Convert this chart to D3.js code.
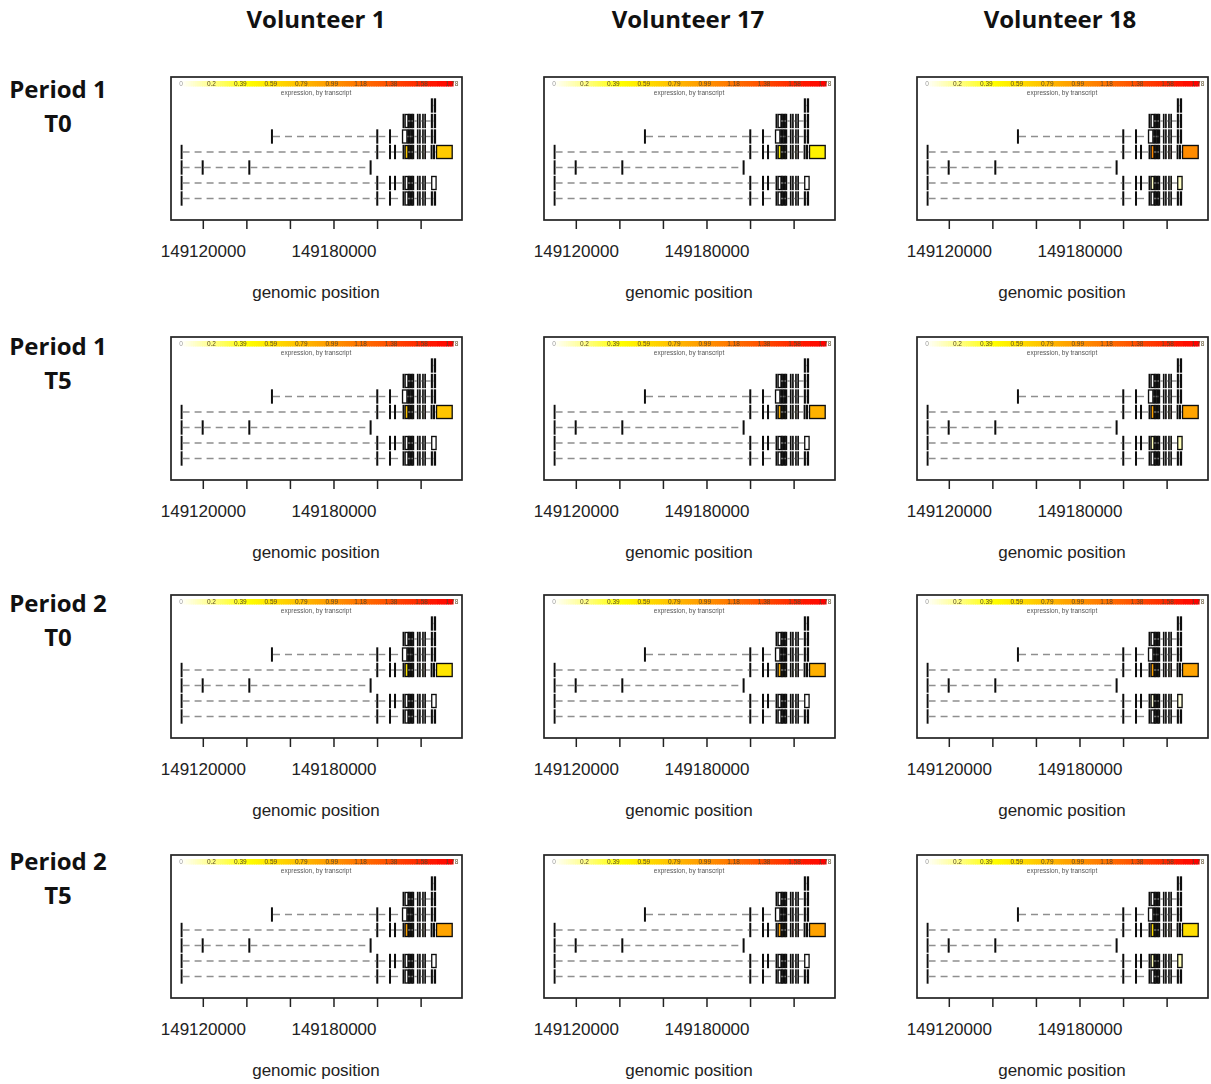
<!DOCTYPE html>
<html>
<head>
<meta charset="utf-8">
<script src="https://cdn.jsdelivr.net/npm/d3@7"></script>
<style>
  body { margin: 0; background: #fff; }
  svg { display: block; }
</style>
</head>
<body>
<svg id="chart" width="1211" height="1084"></svg>
<script>
// ---- Column and row headings ----
const volunteers = ["Volunteer 1", "Volunteer 17", "Volunteer 18"];
const periods = ["Period 1", "Period 1", "Period 2", "Period 2"];
const timepoints = ["T0", "T5", "T0", "T5"];

// ---- Genomic axis ----
const axisTicks = [149120000, 149140000, 149160000, 149180000, 149200000, 149220000];
const axisTickLabels = ["149120000", "", "", "149180000", "", ""];
const axisTitle = "genomic position";

// ---- Expression colour key ----
const legendTicks = [0, 0.2, 0.39, 0.59, 0.79, 0.99, 1.18, 1.38, 1.58, 1.78];
const legendTitle = "expression, by transcript";

// ---- Transcript models (exon start/end, genomic coordinates), top to bottom ----
const tx1Exons = [[149225000, 149225350], [149226350, 149226800]];
const tx2Exons = [[149212000, 149212300], [149212900, 149214200], [149214500, 149214800], [149215100, 149215450],
                  [149215800, 149216150], [149216450, 149216750],
                  [149218600, 149218750], [149219600, 149219750], [149221000, 149221150], [149222000, 149222150],
                  [149225000, 149225350], [149226350, 149226800]];
const tx3Exons = [[149151600, 149151900], [149199950, 149200250], [149205800, 149206100],
                  [149211700, 149213700], [149214100, 149214450], [149214800, 149215150], [149215500, 149215850],
                  [149216200, 149216750],
                  [149218600, 149218750], [149219600, 149219750], [149221000, 149221150], [149222000, 149222150],
                  [149225000, 149225350], [149226350, 149226800]];
const tx4Exons = [[149110150, 149110400], [149199950, 149200250], [149205800, 149206100], [149208100, 149208400],
                  [149212000, 149212300], [149212900, 149214200], [149214500, 149214800], [149215100, 149215450],
                  [149215800, 149216150], [149216450, 149216750],
                  [149218600, 149218750], [149219600, 149219750], [149221000, 149221150], [149222000, 149222150],
                  [149224900, 149225200], [149226000, 149226300], [149227300, 149234500]];
const tx5Exons = [[149110150, 149110400], [149119800, 149120100], [149141200, 149141500], [149196900, 149197200]];
const tx6Exons = [[149110150, 149110400], [149199950, 149200250], [149205800, 149206100], [149208100, 149208400],
                  [149212000, 149212300], [149212900, 149214200], [149214500, 149214800], [149215100, 149215450],
                  [149215800, 149216150], [149216450, 149216750],
                  [149218600, 149218750], [149219600, 149219750], [149221000, 149221150], [149222000, 149222150],
                  [149225100, 149227100]];
const tx7Exons = [[149110150, 149110400], [149199950, 149200250], [149205800, 149206100],
                  [149212000, 149212300], [149212900, 149214200], [149214500, 149214800], [149215100, 149215450],
                  [149215800, 149216150], [149216450, 149216750],
                  [149218600, 149218750], [149219600, 149219750], [149221000, 149221150], [149222000, 149222150],
                  [149225000, 149225350], [149226350, 149226800]];

// ---- Transcript expression per sample: [period/time][volunteer] ----
const tx4Expression = [[0.72, 0.52, 1.05], [0.75, 0.85, 0.92], [0.58, 0.86, 0.92], [0.92, 0.93, 0.62]];
const tx6Expression = [[0, 0, 0.10], [0, 0, 0.12], [0, 0, 0.06], [0, 0, 0.12]];

// ---- Layout ----
const panelLeft = [171, 544, 917];
const panelTop = [77, 337, 595, 855];
const titleX = [316, 688, 1060];
const rowLabelY = [90, 347, 604, 862];
const W = 291, H = 143;

const svg = d3.select("#chart");
const defs = svg.append("defs");
defs.append("filter").attr("id", "soft")
  .append("feGaussianBlur").attr("stdDeviation", 0.35);

const x = d3.scaleLinear().domain([149105400, 149239000]).range([0, W]);
const y = d3.scaleLinear().domain([1, 7]).range([28.5, 121.5]);
const halfH = 0.42 * (y(2) - y(1));
const legendX = d3.scaleLinear().domain([0, 1.78]).range([10, 281]);

// reversed heat palette: white -> yellow -> orange -> red
function heat(v) {
  const t = Math.max(0, Math.min(1, v / 1.78));
  if (t < 0.25) return d3.hsl(60, 1, 1 - 0.5 * (t / 0.25)).formatHex();
  return d3.hsl(60 * (1 - (t - 0.25) / 0.75), 1, 0.5).formatHex();
}

// headings
svg.selectAll("text.vol").data(volunteers).join("text")
  .attr("class", "vol")
  .attr("x", (d, i) => titleX[i]).attr("y", 28)
  .attr("text-anchor", "middle")
  .style("font", "bold 24px 'Open Sans', sans-serif")
  .attr("fill", "#111")
  .text(d => d);

periods.forEach((p, i) => {
  const g = svg.append("g").attr("transform", `translate(58,${rowLabelY[i]})`)
    .style("font", "bold 24px 'Open Sans', sans-serif").attr("fill", "#111")
    .attr("text-anchor", "middle");
  g.append("text").attr("y", 8).text(p);
  g.append("text").attr("y", 42).text(timepoints[i]);
});

const transcripts = [tx1Exons, tx2Exons, tx3Exons, tx4Exons, tx5Exons, tx6Exons, tx7Exons];
const legendSteps = d3.range(0, 1.78 + 1e-9, 1.78 / 120);

periods.forEach((p, r) => {
  volunteers.forEach((v, c) => {
    const g = svg.append("g").attr("transform", `translate(${panelLeft[c]},${panelTop[r]})`);
    const inner = g.append("g").attr("filter", "url(#soft)");

    // colour key
    inner.append("g").selectAll("rect").data(legendSteps).join("rect")
      .attr("x", d => legendX(d) - 1.6).attr("y", 4)
      .attr("width", 3.2).attr("height", 5.5)
      .attr("fill", d => heat(d));
    inner.append("g").selectAll("text").data(legendTicks).join("text")
      .attr("x", d => legendX(d)).attr("y", 9)
      .attr("text-anchor", "middle")
      .style("font", "6.5px 'Liberation Sans', Arial, sans-serif")
      .attr("fill", d => d === 0 ? "#999" : "#5a4a2a")
      .text(d => d);
    inner.append("text").attr("x", 145).attr("y", 18)
      .attr("text-anchor", "middle")
      .style("font", "6.5px 'Liberation Sans', Arial, sans-serif")
      .attr("fill", "#555").text(legendTitle);

    // transcripts: exons filled by expression, dashed introns between them
    const expr = [0, 0, 0, tx4Expression[r][c], 0, tx6Expression[r][c], 0];
    transcripts.forEach((exons, ti) => {
      const yc = y(ti + 1);
      const fill = heat(expr[ti]);
      inner.append("g").selectAll("rect").data(exons).join("rect")
        .attr("x", d => x(d[0])).attr("y", yc - halfH)
        .attr("width", d => x(d[1]) - x(d[0])).attr("height", 2 * halfH)
        .attr("fill", fill).attr("stroke", "#111").attr("stroke-width", 1.35);
      const introns = d3.pairs(exons).map(([a, b]) => [a[1], b[0]]);
      inner.append("g").selectAll("line").data(introns).join("line")
        .attr("x1", d => x(d[0]) + 0.7).attr("x2", d => x(d[1]) - 0.7)
        .attr("y1", yc).attr("y2", yc)
        .attr("stroke", "#8f8f8f").attr("stroke-width", 1.4)
        .attr("stroke-dasharray", "7,5");
    });

    // frame
    g.append("rect").attr("width", W).attr("height", H)
      .attr("fill", "none").attr("stroke", "#222").attr("stroke-width", 1.7);

    // axis
    const ax = g.append("g").attr("transform", `translate(0,${H})`)
      .call(d3.axisBottom(x).tickValues(axisTicks)
        .tickFormat((d, i) => axisTickLabels[i]).tickSize(9).tickPadding(16));
    ax.select(".domain").remove();
    ax.selectAll(".tick line").attr("stroke", "#222").attr("stroke-width", 1.5);
    ax.selectAll(".tick text")
      .style("font", "17px 'Liberation Sans', Arial, sans-serif").attr("fill", "#222");

    g.append("text").attr("x", 145).attr("y", 221)
      .attr("text-anchor", "middle")
      .style("font", "17px 'Liberation Sans', Arial, sans-serif")
      .attr("fill", "#222").text(axisTitle);
  });
});
</script>
</body>
</html>
